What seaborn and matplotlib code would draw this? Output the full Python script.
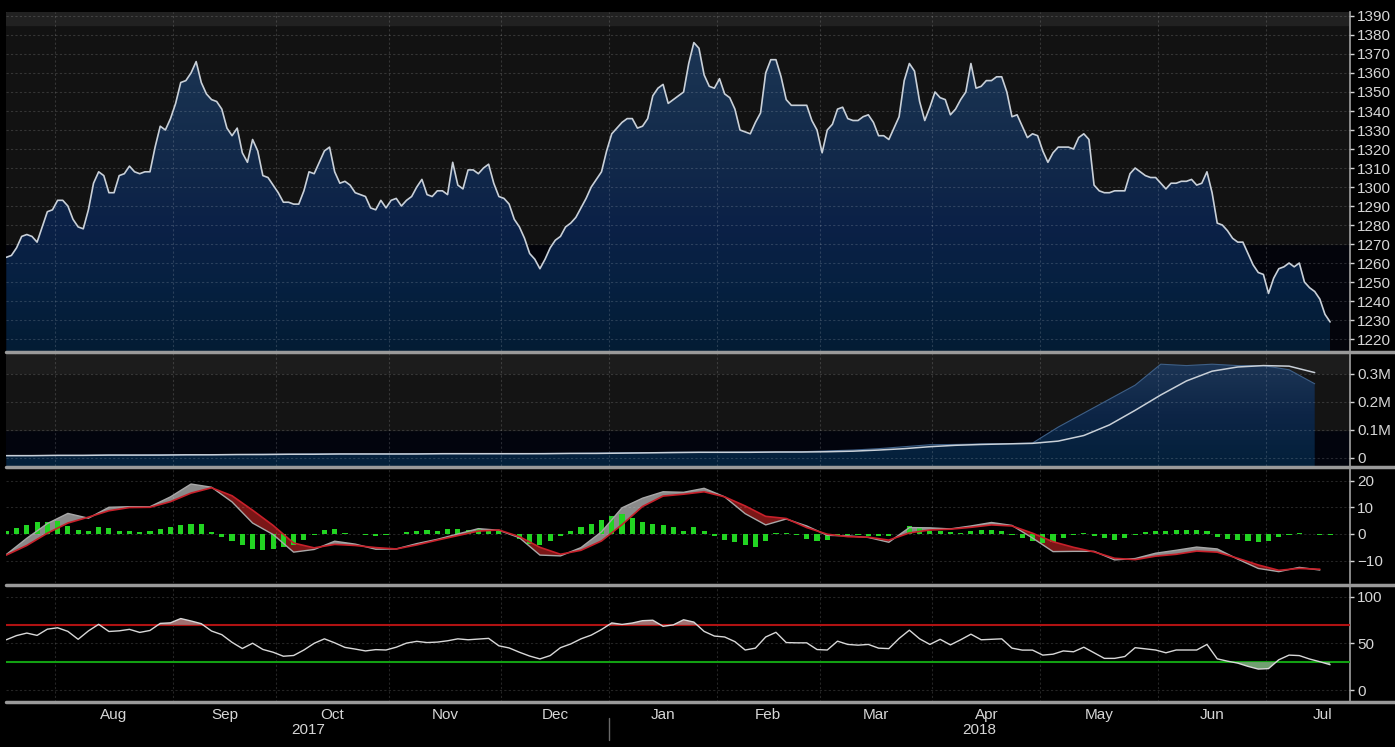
import numpy as np
import pandas as pd
import matplotlib
matplotlib.use("Agg")
import matplotlib.pyplot as plt
import seaborn as sns
from matplotlib.colors import LinearSegmentedColormap
from matplotlib.lines import Line2D
import matplotlib.transforms as mtransforms

# ---- datos (dias habiles desde 2017-07-18) ----
price = [1263, 1264, 1268, 1274, 1275, 1274, 1271, 1279, 1287, 1288,
         1293, 1293, 1290, 1283, 1279, 1278, 1288, 1302, 1308, 1306,
         1297, 1297, 1306, 1307, 1311, 1308, 1307, 1308, 1308, 1321,
         1332, 1330, 1336, 1344, 1355, 1356, 1360, 1366, 1355, 1349,
         1346, 1345, 1341, 1331, 1327, 1331, 1318, 1313, 1325, 1319,
         1306, 1305, 1301, 1297, 1292, 1292, 1291, 1291, 1298, 1308,
         1307, 1313, 1319, 1321, 1308, 1302, 1303, 1301, 1297, 1296,
         1295, 1289, 1288, 1293, 1289, 1293, 1294, 1290, 1293, 1295,
         1300, 1304, 1296, 1295, 1298, 1298, 1296, 1313, 1301, 1299,
         1309, 1309, 1307, 1310, 1312, 1302, 1295, 1294, 1291, 1283,
         1279, 1273, 1265, 1262, 1257, 1262, 1268, 1272, 1274, 1279,
         1281, 1284, 1289, 1294, 1300, 1304, 1308, 1319, 1328, 1331,
         1334, 1336, 1336, 1331, 1332, 1336, 1348, 1352, 1354, 1344,
         1346, 1348, 1350, 1365, 1376, 1373, 1359, 1353, 1352, 1357,
         1349, 1347, 1341, 1330, 1329, 1328, 1334, 1339, 1360, 1367,
         1367, 1358, 1346, 1343, 1343, 1343, 1343, 1335, 1330, 1318,
         1330, 1333, 1341, 1342, 1336, 1335, 1335, 1337, 1338, 1334,
         1327, 1327, 1325, 1331, 1337, 1356, 1365, 1361, 1345, 1335,
         1342, 1350, 1347, 1346, 1338, 1341, 1346, 1350, 1365, 1352,
         1353, 1356, 1356, 1358, 1358, 1350, 1337, 1338, 1332, 1326,
         1328, 1327, 1319, 1313, 1318, 1321, 1321, 1321, 1320, 1326,
         1328, 1325, 1301, 1298, 1297, 1297, 1298, 1298, 1298, 1307,
         1310, 1308, 1306, 1305, 1305, 1302, 1299, 1302, 1302, 1303,
         1303, 1304, 1301, 1302, 1308, 1297, 1281, 1280, 1277, 1273,
         1271, 1271, 1265, 1259, 1255, 1254, 1244, 1252, 1257, 1258,
         1260, 1258, 1260, 1250, 1247, 1245, 1241, 1233, 1229]

# panel 2 (millones), cada 5 dias
vol = [.008, .008, .009, .009, .010, .010, .011, .011, .012, .012,
       .013, .013, .014, .014, .014, .014, .015, .015, .015, .015,
       .015, .016, .016, .017, .018, .019, .020, .020, .020, .021,
       .021, .022, .025, .028, .033, .040, .047, .048, .050, .051,
       .053, .110, .160, .210, .260, .335, .330, .335, .330, .330,
       .315, .265]
vol_ma = [.008, .008, .009, .009, .010, .010, .010, .011, .011, .012,
          .012, .013, .013, .014, .014, .014, .014, .015, .015, .015,
          .015, .015, .016, .016, .017, .018, .019, .020, .020, .020,
          .021, .021, .022, .024, .028, .033, .040, .045, .048, .050,
          .052, .060, .080, .118, .170, .225, .275, .310, .325, .330,
          .328, .305]

# MACD y senal, cada 4 dias
macd = [-7.7, -1.6, 3.9, 7.7, 5.9, 10.0, 10.2, 10.2, 13.9, 18.7,
        17.5, 12.0, 4.1, -0.2, -6.8, -5.8, -2.7, -3.8, -5.7, -5.6,
        -3.6, -2.0, 0.0, 2.0, 1.4, -1.4, -7.9, -8.2, -5.1, 0.8,
        9.8, 13.4, 15.8, 15.6, 17.1, 13.9, 7.6, 3.4, 5.6, 3.0,
        -0.5, -0.7, -1.3, -3.1, 2.4, 2.3, 1.9, 3.0, 4.3, 3.2,
        -1.5, -6.6, -6.5, -6.5, -9.7, -9.2, -7.2, -6.1, -4.9, -5.6,
        -9.4, -12.9, -14.1, -12.5, -13.5]
signal = [-7.9, -4.3, 0.3, 4.1, 6.3, 8.7, 9.9, 10.0, 12.1, 15.3,
          17.3, 14.3, 8.9, 3.2, -3.4, -5.2, -3.9, -4.3, -5.1, -5.6,
          -4.1, -2.3, -0.6, 1.1, 1.5, -1.0, -5.0, -7.6, -6.1, -2.6,
          3.5, 10.3, 14.2, 14.9, 15.8, 13.9, 10.5, 6.6, 5.8, 2.4,
          -0.1, -1.0, -1.2, -2.3, 0.4, 1.5, 1.8, 2.5, 3.4, 3.0,
          0.3, -2.9, -5.0, -6.7, -9.1, -9.6, -8.3, -7.6, -6.4, -6.8,
          -9.1, -11.6, -13.6, -12.9, -13.2]

# histograma y RSI, cada 2 dias
hist = [1.0, 2.4, 3.3, 4.4, 4.4, 4.7, 3.0, 1.4, 1.3, 2.6,
        2.4, 1.3, 1.0, 0.9, 1.0, 1.8, 2.7, 3.3, 3.8, 3.6,
        0.6, -1.1, -2.6, -4.3, -5.6, -6.0, -5.6, -5.0, -4.0, -2.2,
        -0.3, 1.6, 1.8, 0.4, -0.1, -0.5, -0.6, -0.4, 0.1, 0.6,
        1.0, 1.5, 1.3, 1.7, 2.0, 1.5, 1.9, 2.0, 1.3, 0.0,
        -1.8, -3.6, -4.0, -2.8, -0.9, 1.0, 2.7, 3.6, 5.1, 6.8,
        7.4, 6.1, 4.6, 3.6, 3.5, 2.5, 1.3, 2.5, 1.1, -0.7,
        -2.2, -3.0, -4.3, -4.8, -2.5, 0.4, 0.3, -0.5, -1.7, -2.8,
        -2.3, -0.8, -0.4, -0.5, -0.6, -0.8, -0.7, 0.0, 2.9, 2.5,
        1.3, 1.1, 0.8, 0.3, 1.1, 1.5, 1.4, 1.1, -0.5, -1.5,
        -2.7, -3.3, -2.9, -1.4, -0.5, 0.2, -0.6, -1.4, -2.3, -1.6,
        -0.4, 0.6, 1.3, 1.3, 1.4, 1.5, 1.5, 1.0, -1.0, -1.8,
        -2.2, -2.5, -2.9, -2.7, -1.2, -0.2, 0.4, 0.0, -0.3, -0.5]
rsi = [54, 58.5, 61.2, 58.7, 65.4, 66.9, 63, 54.5, 63.5, 70.6,
       62.9, 63.6, 65.2, 61.9, 64, 71.6, 72.2, 76.8, 74.2, 71.3,
       63.4, 59.5, 51.2, 44.6, 50.3, 43.6, 40.6, 36.3, 37.1, 43,
       50.2, 55, 50.7, 45.8, 44, 42, 43.4, 43, 46, 50.4,
       52.3, 51, 51.5, 52.9, 55, 54, 54.8, 55.5, 47.5, 45.2,
       40.6, 36.5, 33.4, 37, 45.5, 49.5, 55, 59, 65, 72.1,
       70.5, 72, 74.5, 75, 68.5, 70, 75.5, 73, 63, 58,
       57, 52, 43, 45, 57, 62, 51, 50.7, 50.7, 43.5,
       43, 52.5, 49, 48.2, 49, 45, 44.5, 55.4, 64.3, 55,
       49, 54.5, 48.5, 54, 60, 54, 54.5, 55, 45, 42.9,
       42.9, 37.5, 38.5, 42, 41.1, 46, 40, 34, 34, 36,
       45.5, 44.2, 43, 40, 43, 43, 43, 49, 33.5, 31,
       28.9, 25.4, 22.5, 23, 32.5, 37.5, 37, 33.3, 30.4, 27.2]

# calendario (dias habiles)
holidays = ["2017-09-04", "2018-01-01", "2018-01-15"]
cal = pd.bdate_range("2017-07-18", "2018-07-31", freq="C", holidays=holidays)

x_p = np.arange(len(price))
x_v = np.arange(0, 5 * len(vol), 5)
x_m = np.arange(0, 4 * len(macd), 4)
x_h = np.arange(0, 2 * len(hist), 2)
price = np.array(price); vol = np.array(vol); vol_ma = np.array(vol_ma)
macd = np.array(macd); signal = np.array(signal); hist = np.array(hist); rsi = np.array(rsi)

# limites de mes y etiquetas
mdf = pd.DataFrame({"pos": np.arange(len(cal)), "m": cal.to_period("M")})
g = mdf.groupby("m")["pos"].agg(["min", "count"])
g = g.loc[pd.Period("2017-08"):]
bounds = (g["min"] - 0.5).values
label_pos = (g["min"] - 0.5 + g["count"] / 2).values
label_txt = [p.strftime("%b") for p in g.index]

sns.set_theme(style="dark")
plt.rcParams["font.family"] = ["Liberation Sans", "DejaVu Sans"]
TXT = "#d6d6d6"
FS = 11

W, H = 1395, 747
fig = plt.figure(figsize=(W / 100, H / 100), dpi=100, facecolor="black")
XL, XR = 6.3, 1350
x_max = (XR - XL) / 5.131


def add_ax(top, bottom):
    return fig.add_axes([XL / W, 1 - bottom / H, (XR - XL) / W, (bottom - top) / H])


ax1 = add_ax(12, 351)
ax2 = add_ax(353, 466)
ax3 = add_ax(468, 583)
ax4 = add_ax(586, 702)


def grad_fill(ax, x, y, base, top, colors, z=2):
    poly = ax.fill_between(x, y, base, facecolor="none", edgecolor="none")
    cmap = LinearSegmentedColormap.from_list("f", colors)
    img = ax.imshow(np.linspace(0, 1, 256).reshape(-1, 1), cmap=cmap, aspect="auto",
                    origin="lower", extent=[x[0], x[-1], base, top], zorder=z)
    img.set_clip_path(poly.get_paths()[0], transform=ax.transData)


# ---- panel 1: precio ----
y1lo, y1hi = 1213.7, 1392.1
ax1.axhspan(y1lo, 1270, color="#03040b", zorder=0)
ax1.axhspan(1270, 1385.5, color="#121212", zorder=0)
ax1.axhspan(1385.5, y1hi, color="#212121", zorder=0)
grad_fill(ax1, x_p, price, y1lo, 1380,
          ["#031c34", "#062040", "#0b2147", "#12294a", "#17304f", "#1c3555"])
sns.lineplot(x=x_p, y=price, ax=ax1, color="#c9d0d8", lw=1.2, zorder=4)
ax1.set_ylim(y1lo, y1hi)
ax1.set_yticks(np.arange(1220, 1391, 10))

# ---- panel 2 ----
y2lo, y2hi = -0.029, 0.375
ax2.axhspan(y2lo, 0.1, color="#02040d", zorder=0)
ax2.axhspan(0.1, 0.304, color="#141414", zorder=0)
ax2.axhspan(0.304, y2hi, color="#1c1c1c", zorder=0)
grad_fill(ax2, x_v, vol, y2lo, 0.34, ["#03203a", "#0d2546", "#1d3656"])
sns.lineplot(x=x_v, y=vol, ax=ax2, color="#3e5f86", lw=0.8, zorder=3)
sns.lineplot(x=x_v, y=vol_ma, ax=ax2, color="#c9d0d8", lw=1.1, zorder=4)
ax2.set_ylim(y2lo, y2hi)
ax2.set_yticks([0, 0.1, 0.2, 0.3])
ax2.set_yticklabels(["0", "0.1M", "0.2M", "0.3M"])

# ---- panel 3: MACD ----
ax3.set_facecolor("black")
ax3.fill_between(x_m, macd, signal, where=macd >= signal, interpolate=True,
                 color="#8a8a8a", lw=0, zorder=2)
ax3.fill_between(x_m, macd, signal, where=macd < signal, interpolate=True,
                 color="#7a1616", lw=0, zorder=2)
ax3.bar(x_h, hist, width=1.0, color="#22d422", lw=0, edgecolor="none", zorder=3.5)
sns.lineplot(x=x_m, y=macd, ax=ax3, color="#a8a8a8", lw=1.0, zorder=4)
sns.lineplot(x=x_m, y=signal, ax=ax3, color="#c8202a", lw=1.2, zorder=4)
ax3.set_ylim(-18.35, 24.7)
ax3.set_yticks([-10, 0, 10, 20])

# ---- panel 4: RSI ----
ax4.set_facecolor("black")
ax4.axhline(70, color="#b01212", lw=1.5, zorder=3.2)
ax4.axhline(30, color="#12a012", lw=1.5, zorder=3.2)
ax4.fill_between(x_h, rsi, 70, where=rsi > 70, interpolate=True, color="#a07070", lw=0, zorder=3.3)
ax4.fill_between(x_h, rsi, 30, where=rsi < 30, interpolate=True, color="#70a070", lw=0, zorder=3.3)
sns.lineplot(x=x_h, y=rsi, ax=ax4, color="#d8d8d8", lw=1.0, zorder=4)
ax4.set_ylim(-12.9, 111.8)
ax4.set_yticks([0, 50, 100])

for ax in (ax1, ax2, ax3, ax4):
    ax.set_xlim(0, x_max)
    ax.set_xticks(bounds)
    ax.set_xticklabels([])
    ax.grid(True, color="white", alpha=0.15, ls=(0, (2, 2)), lw=0.8)
    ax.set_axisbelow(False)
    ax.yaxis.tick_right()
    ax.tick_params(axis="y", colors=TXT, labelsize=FS, length=3, width=1, pad=2,
                   direction="out")
    ax.tick_params(axis="x", length=0)
    for s in ax.spines.values():
        s.set_visible(False)
    ax.spines["right"].set_visible(True)
    ax.spines["right"].set_color("#9a9a9a")
    ax.set_xlabel("")
    ax.set_ylabel("")
    for gl in ax.get_xgridlines() + ax.get_ygridlines():
        gl.set_zorder(3)

# eje x inferior
ax4.tick_params(axis="x", length=4, color="#9a9a9a", direction="out")
ax4.set_xticks(label_pos, minor=True)
ax4.set_xticklabels(label_txt, minor=True)
ax4.tick_params(axis="x", which="minor", length=0, colors=TXT, labelsize=FS, pad=4)
ax4.grid(False, which="minor")
trans = mtransforms.blended_transform_factory(ax4.transData, fig.transFigure)
jan = bounds[label_txt.index("Jan")]
ax4.text((0 + jan) / 2, 1 - 730 / H, "2017", transform=trans, color=TXT, fontsize=FS,
         ha="center", va="center")
ax4.text((jan + x_max) / 2, 1 - 730 / H, "2018", transform=trans, color=TXT, fontsize=FS,
         ha="center", va="center")
fig.add_artist(Line2D([jan, jan], [1 - 718 / H, 1 - 740 / H], color="#6a6a6a", lw=1,
                      transform=trans))

# separadores
for yy in (352, 467, 584.5, 702):
    fig.add_artist(Line2D([XL / W, 1], [1 - yy / H] * 2, color="#9a9a9a", lw=2.5))

plt.savefig("out.png", dpi=100, facecolor="black")
